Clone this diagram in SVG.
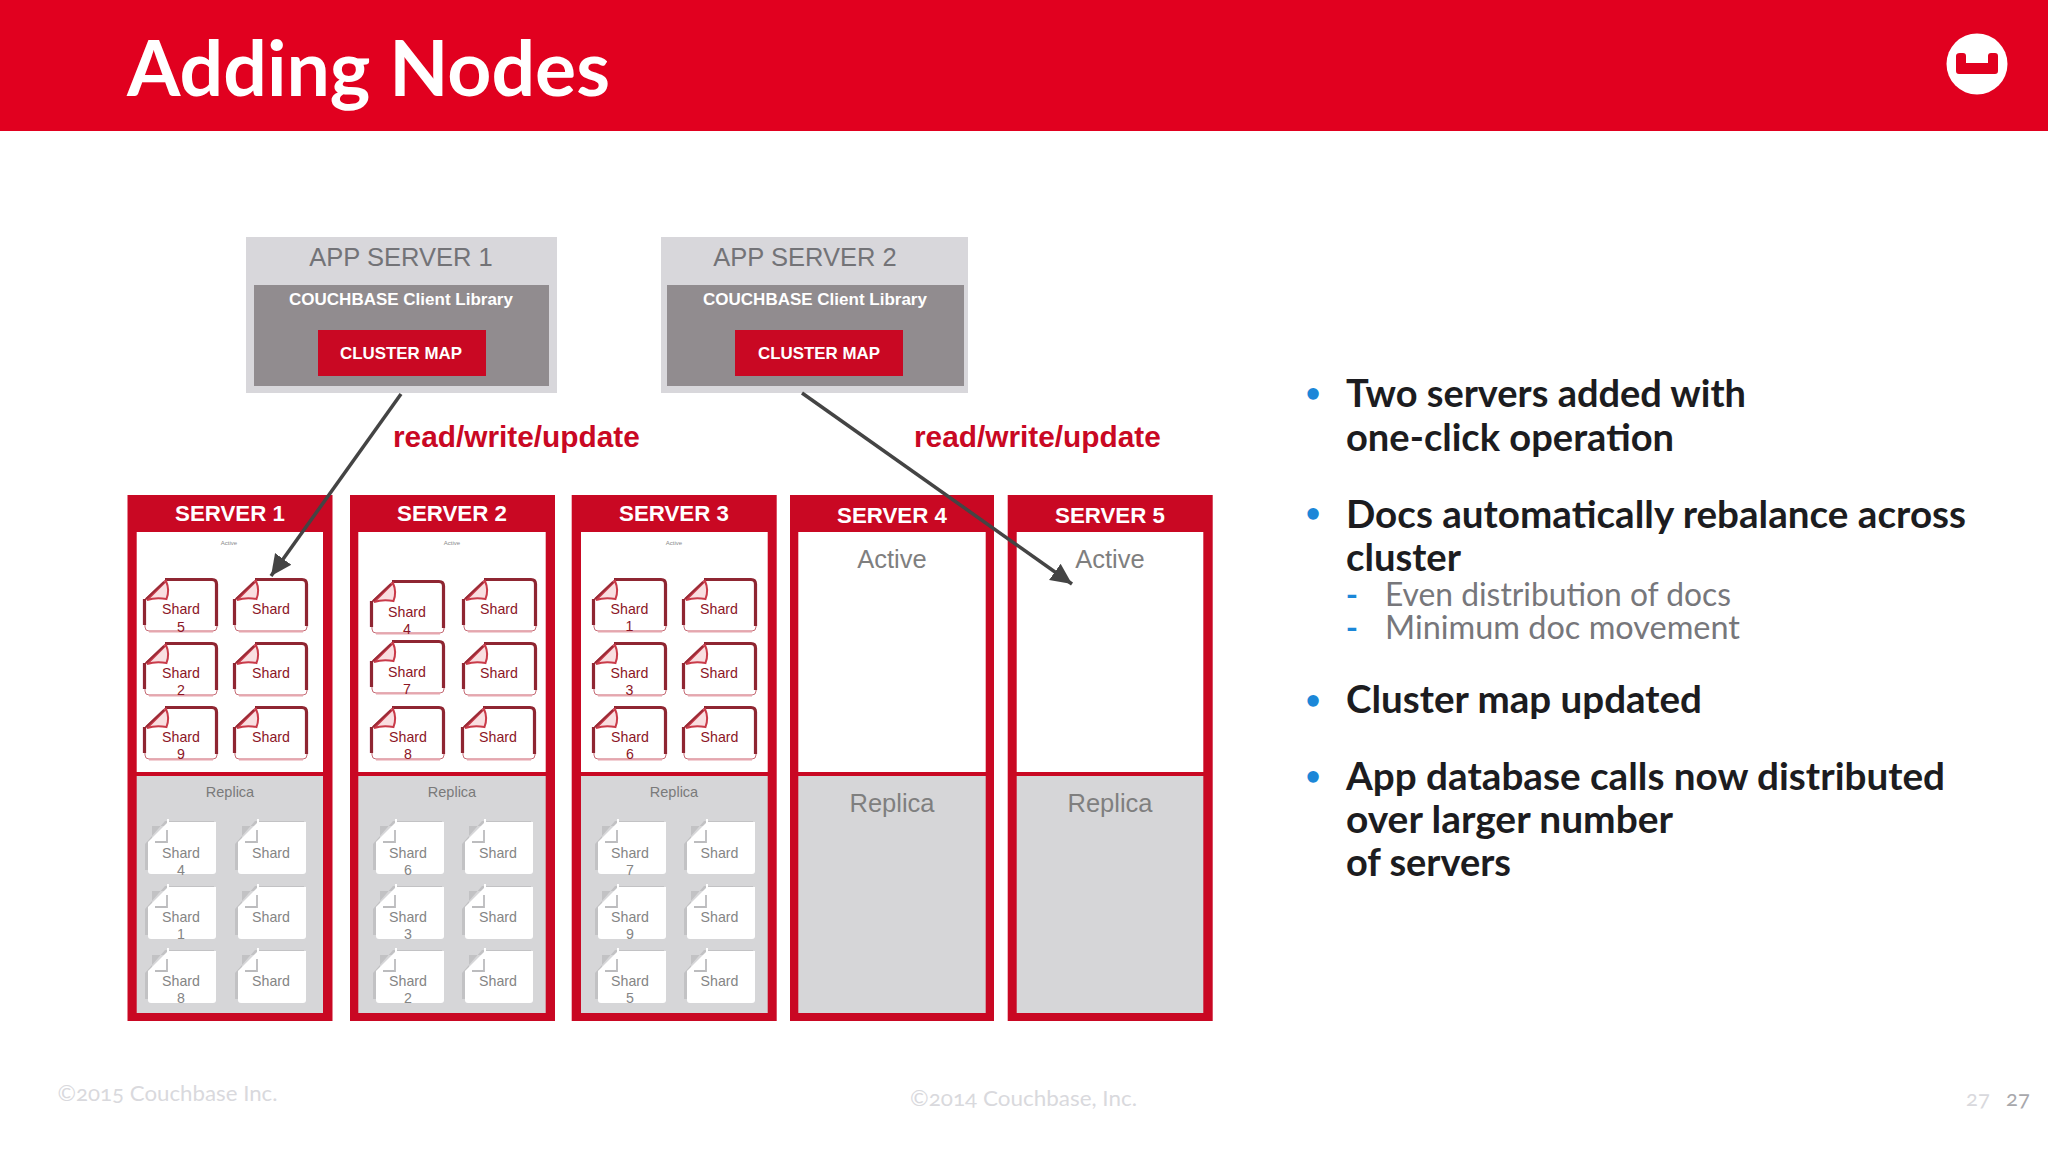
<svg xmlns="http://www.w3.org/2000/svg" xmlns:xlink="http://www.w3.org/1999/xlink" width="2048" height="1152" viewBox="0 0 2048 1152">
<style>
text{font-family:"Liberation Sans",Arial,sans-serif}
.c{text-anchor:middle}
.lato{font-family:Lato,"Noto Sans",sans-serif}
.frame{fill:#c90823}
.white{fill:#fff}
.grey{fill:#d6d6d8}
.st{font-size:22.3px;font-weight:700;fill:#fff;text-anchor:middle}
.tiny{font-size:6px;fill:#8a8a8a;text-anchor:middle}
.rl{font-size:14.5px;fill:#7a7a7a;text-anchor:middle}
.big{font-size:25.5px;fill:#7f7f7f;text-anchor:middle}
.sa{font-size:14.2px;fill:#8c1626;text-anchor:middle}
.sr{font-size:14.2px;fill:#858585;text-anchor:middle}
.apt{font-size:25.5px;fill:#737377;text-anchor:middle}
.lib{font-size:17px;font-weight:700;fill:#fff;text-anchor:middle}
.cm{font-size:16.9px;font-weight:700;fill:#fff;text-anchor:middle}
.rw{font-size:29.8px;font-weight:700;fill:#c90823}
.b{font-family:Lato,"Noto Sans",sans-serif;font-size:38px;font-weight:700;fill:#1c1c20}
.s{font-family:Lato,"Noto Sans",sans-serif;font-size:33px;fill:#77777b}
.dot{font-family:Lato,"Noto Sans",sans-serif;font-size:26px;font-weight:700;fill:#1b87d8;text-anchor:middle}
.f{font-family:Lato,"Noto Sans",sans-serif;font-size:22px;fill:#d9d9dd;font-variant-numeric:oldstyle-nums}
.ln{fill:none;stroke:#444;stroke-width:3.500;marker-end:url(#ah)}
</style>
<defs>
<filter id="soft" x="-10%" y="-10%" width="120%" height="120%"><feGaussianBlur stdDeviation="0.450"/></filter>
<marker id="ah" markerUnits="userSpaceOnUse" markerWidth="24" markerHeight="24" refX="21" refY="11" orient="auto"><path d="M0 1L21 11L0 21Z" fill="#444"/></marker>
<g id="sa" filter="url(#soft)">
<path d="M2 21L22 2H70Q74 2 74 6V49Q74 53 70 53H6Q2 53 2 49Z" fill="#fff" stroke="#c56a74" stroke-width="1"/>
<path d="M22 1.500H69Q73.500 1.500 73.500 6V48M1.500 21V47" fill="none" stroke="#8f2530" stroke-width="3.200"/>
<path d="M6 53.500H70" fill="none" stroke="#e6a6ae" stroke-width="1.800"/>
<path d="M23 3Q27 12 23.500 21Q13 19 4 22Z" fill="#f9dfe1" stroke="#c93a4a" stroke-width="2"/>
<path d="M21 4L3 21" fill="none" stroke="#9a2b36" stroke-width="1.800"/>
</g>
<g id="sr" filter="url(#soft)">
<path d="M-3 22L17 -1H66V4H4V48H-3Z" fill="#c2c2c4"/>
<path d="M0 20L20 0H68V49Q68 52 65 52H3Q0 52 0 49Z" fill="#fff"/>
<path d="M20 -3V10" fill="none" stroke="#fff" stroke-width="2"/>
<path d="M19 8V20H7" fill="none" stroke="#bcbcbe" stroke-width="1.800"/>
</g>
</defs>
<rect width="2048" height="1152" fill="#fff"/>
<rect id="header" width="2048" height="131" fill="#e1001f"/>
<text class="lato" x="127" y="96" font-size="77" font-weight="700" fill="#fff" textLength="483" lengthAdjust="spacingAndGlyphs">Adding Nodes</text>
<g id="logo"><circle cx="1977" cy="64" r="30.500" fill="#fff"/><path d="M1960 53H1963Q1966 53 1966 56V63H1988V56Q1988 53 1991 53H1995Q1998 53 1998 56V71Q1998 74 1995 74H1959Q1956 74 1956 71V56Q1956 53 1960 53Z" fill="#e1001f"/></g>

<g id="app1"><rect x="246" y="237" width="311" height="156" fill="#d8d7db"/><rect x="254" y="285" width="295" height="101" fill="#918c8f"/><rect x="318" y="330" width="168" height="46" fill="#c90823"/><text class="apt" x="401" y="266">APP SERVER 1</text><text class="lib" x="401" y="305">COUCHBASE Client Library</text><text class="cm" x="401" y="359">CLUSTER MAP</text></g>
<g id="app2"><rect x="661" y="237" width="307" height="156" fill="#d8d7db"/><rect x="667" y="285" width="297" height="101" fill="#918c8f"/><rect x="735" y="330" width="168" height="46" fill="#c90823"/><text class="apt" x="805" y="266">APP SERVER 2</text><text class="lib" x="815" y="305">COUCHBASE Client Library</text><text class="cm" x="819" y="359">CLUSTER MAP</text></g>

<g id="server1"><rect class="frame" x="127.500" y="495" width="205" height="526"/><rect class="white" x="136.700" y="532" width="186.300" height="240"/><rect class="grey" x="136.700" y="776" width="186.300" height="237"/>
<text class="st" x="230" y="521">SERVER 1</text><text class="tiny" x="229" y="545">Active</text><text class="rl" x="230" y="797">Replica</text>
<use href="#sa" x="143" y="578"/><use href="#sa" x="233" y="578"/><use href="#sa" x="143" y="642"/><use href="#sa" x="233" y="642"/><use href="#sa" x="143" y="706"/><use href="#sa" x="233" y="706"/>
<text class="sa" x="181" y="614">Shard</text><text class="sa" x="181" y="632">5</text><text class="sa" x="271" y="614">Shard</text><text class="sa" x="181" y="678">Shard</text><text class="sa" x="181" y="695">2</text><text class="sa" x="271" y="678">Shard</text><text class="sa" x="181" y="742">Shard</text><text class="sa" x="181" y="759">9</text><text class="sa" x="271" y="742">Shard</text>
<use href="#sr" x="148" y="822"/><use href="#sr" x="238" y="822"/><use href="#sr" x="148" y="887"/><use href="#sr" x="238" y="887"/><use href="#sr" x="148" y="951"/><use href="#sr" x="238" y="951"/>
<text class="sr" x="181" y="858">Shard</text><text class="sr" x="181" y="875">4</text><text class="sr" x="271" y="858">Shard</text><text class="sr" x="181" y="922">Shard</text><text class="sr" x="181" y="939">1</text><text class="sr" x="271" y="922">Shard</text><text class="sr" x="181" y="986">Shard</text><text class="sr" x="181" y="1003">8</text><text class="sr" x="271" y="986">Shard</text></g>

<g id="server2"><rect class="frame" x="350" y="495" width="205" height="526"/><rect class="white" x="358.300" y="532" width="187.400" height="240"/><rect class="grey" x="358.300" y="776" width="187.400" height="237"/>
<text class="st" x="452" y="521">SERVER 2</text><text class="tiny" x="452" y="545">Active</text><text class="rl" x="452" y="797">Replica</text>
<use href="#sa" x="370" y="580"/><use href="#sa" x="462" y="578"/><use href="#sa" x="370" y="640"/><use href="#sa" x="462" y="642"/><use href="#sa" x="370" y="706"/><use href="#sa" x="461" y="706"/>
<text class="sa" x="407" y="617">Shard</text><text class="sa" x="407" y="634">4</text><text class="sa" x="499" y="614">Shard</text><text class="sa" x="407" y="677">Shard</text><text class="sa" x="407" y="694">7</text><text class="sa" x="499" y="678">Shard</text><text class="sa" x="408" y="742">Shard</text><text class="sa" x="408" y="759">8</text><text class="sa" x="498" y="742">Shard</text>
<use href="#sr" x="376" y="822"/><use href="#sr" x="465" y="822"/><use href="#sr" x="376" y="887"/><use href="#sr" x="465" y="887"/><use href="#sr" x="376" y="951"/><use href="#sr" x="465" y="951"/>
<text class="sr" x="408" y="858">Shard</text><text class="sr" x="408" y="875">6</text><text class="sr" x="498" y="858">Shard</text><text class="sr" x="408" y="922">Shard</text><text class="sr" x="408" y="939">3</text><text class="sr" x="498" y="922">Shard</text><text class="sr" x="408" y="986">Shard</text><text class="sr" x="408" y="1003">2</text><text class="sr" x="498" y="986">Shard</text></g>

<g id="server3"><rect class="frame" x="571.700" y="495" width="205" height="526"/><rect class="white" x="581" y="532" width="186.700" height="240"/><rect class="grey" x="581" y="776" width="186.700" height="237"/>
<text class="st" x="674" y="521">SERVER 3</text><text class="tiny" x="674" y="545">Active</text><text class="rl" x="674" y="797">Replica</text>
<use href="#sa" x="592" y="578"/><use href="#sa" x="682" y="578"/><use href="#sa" x="592" y="642"/><use href="#sa" x="682" y="642"/><use href="#sa" x="592" y="706"/><use href="#sa" x="682" y="706"/>
<text class="sa" x="629.500" y="614">Shard</text><text class="sa" x="629.500" y="631">1</text><text class="sa" x="719" y="614">Shard</text><text class="sa" x="629.500" y="678">Shard</text><text class="sa" x="629.500" y="695">3</text><text class="sa" x="719" y="678">Shard</text><text class="sa" x="630" y="742">Shard</text><text class="sa" x="630" y="759">6</text><text class="sa" x="719.500" y="742">Shard</text>
<use href="#sr" x="598" y="822"/><use href="#sr" x="687" y="822"/><use href="#sr" x="598" y="887"/><use href="#sr" x="687" y="887"/><use href="#sr" x="598" y="951"/><use href="#sr" x="687" y="951"/>
<text class="sr" x="630" y="858">Shard</text><text class="sr" x="630" y="875">7</text><text class="sr" x="719.500" y="858">Shard</text><text class="sr" x="630" y="922">Shard</text><text class="sr" x="630" y="939">9</text><text class="sr" x="719.500" y="922">Shard</text><text class="sr" x="630" y="986">Shard</text><text class="sr" x="630" y="1003">5</text><text class="sr" x="719.500" y="986">Shard</text></g>

<g id="server4"><rect class="frame" x="790" y="495" width="204" height="526"/><rect class="white" x="798.300" y="532" width="187.400" height="240"/><rect class="grey" x="798.300" y="776" width="187.400" height="237"/><text class="st" x="892" y="523">SERVER 4</text><text class="big" x="892" y="568">Active</text><text class="big" x="892" y="812">Replica</text></g>
<g id="server5"><rect class="frame" x="1007.700" y="495" width="205" height="526"/><rect class="white" x="1016.700" y="532" width="186.600" height="240"/><rect class="grey" x="1016.700" y="776" width="186.600" height="237"/><text class="st" x="1110" y="523">SERVER 5</text><text class="big" x="1110" y="568">Active</text><text class="big" x="1110" y="812">Replica</text></g>

<g id="connectors"><path class="ln" d="M401 394L271 576"/><path class="ln" d="M802 393L1072 584"/></g>
<text class="rw" x="393" y="447">read/write/update</text>
<text class="rw" x="914" y="447">read/write/update</text>

<g id="bullets">
<text class="dot" x="1313" y="402">•</text><text class="b" x="1346" y="407" textLength="400" lengthAdjust="spacingAndGlyphs">Two servers added with</text><text class="b" x="1346" y="451" textLength="328" lengthAdjust="spacingAndGlyphs">one-click operation</text>
<text class="dot" x="1313" y="522">•</text><text class="b" x="1346" y="528" textLength="620" lengthAdjust="spacingAndGlyphs">Docs automatically rebalance across</text><text class="b" x="1346" y="571" textLength="115" lengthAdjust="spacingAndGlyphs">cluster</text>
<text class="dot" x="1352" y="606" style="font-size:33px">-</text><text class="s" x="1385" y="606" textLength="346" lengthAdjust="spacingAndGlyphs">Even distribution of docs</text>
<text class="dot" x="1352" y="639" style="font-size:33px">-</text><text class="s" x="1385" y="639" textLength="355" lengthAdjust="spacingAndGlyphs">Minimum doc movement</text>
<text class="dot" x="1313" y="709">•</text><text class="b" x="1346" y="713" textLength="356" lengthAdjust="spacingAndGlyphs">Cluster map updated</text>
<text class="dot" x="1313" y="785">•</text><text class="b" x="1346" y="790" textLength="599" lengthAdjust="spacingAndGlyphs">App database calls now distributed</text><text class="b" x="1346" y="833" textLength="327" lengthAdjust="spacingAndGlyphs">over larger number</text><text class="b" x="1346" y="876" textLength="165" lengthAdjust="spacingAndGlyphs">of servers</text>
</g>
<g id="footer">
<text class="f" x="57.500" y="1101" textLength="220" lengthAdjust="spacingAndGlyphs">©2015 Couchbase Inc.</text>
<text class="f" x="910" y="1106" textLength="227" lengthAdjust="spacingAndGlyphs">©2014 Couchbase, Inc.</text>
<text class="f" x="1966" y="1106">27</text>
<text class="f" x="2006" y="1106" style="fill:#a8a8ac">27</text>
</g>
</svg>
